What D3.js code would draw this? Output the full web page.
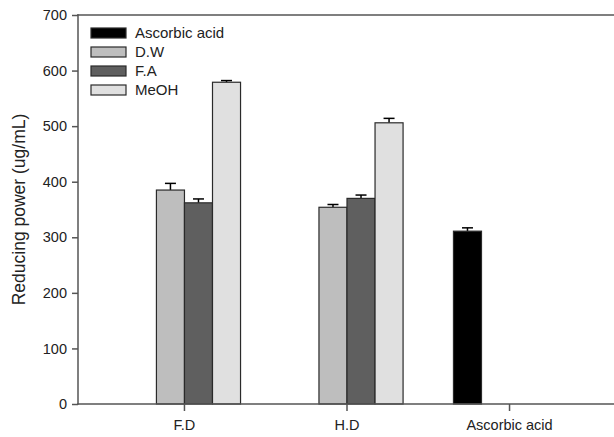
<!DOCTYPE html>
<html>
<head>
    <meta charset="utf-8">
    <style>
        html, body {
            margin: 0;
            background: #fff;
            overflow: hidden;
        }
        svg {
            display: block;
            font-family: Arial, 'Liberation Sans', sans-serif;
        }
    </style>
</head>
<body>
    <svg width="614" height="437"></svg>

<script src="https://d3js.org/d3.v7.min.js"></script>
<script>
    // data
    let groups = ["F.D", "H.D", "Ascorbic acid"]
    let series = ["Ascorbic acid", "D.W", "F.A", "MeOH"]
    let colors = ["#000000", "#bebebe", "#5f5f5f", "#e0e0e0"]

    // one row per group, values by series (null = no bar)
    let values = [
        [null, 385, 362, 579],
        [null, 354, 370, 506],
        [311, null, null, null]
    ]
    let errors = [
        [null, 12, 7, 3],
        [null, 5, 6, 8],
        [6, null, null, null]
    ]
    let yTicks = [0, 100, 200, 300, 400, 500, 600, 700]

    let width = 614
    let height = 437
    let margin = { top: 15, right: -2, bottom: 33, left: 78 }

    let svg = d3.select("svg")

    let x0 = d3.scaleBand()
        .domain(groups)
        .range([margin.left, width - margin.right])
        .padding(0.31)

    let x1 = d3.scaleBand()
        .domain(series)
        .range([0, x0.bandwidth()])

    let y = d3.scaleLinear()
        .domain([0, 700])
        .range([height - margin.bottom, margin.top])

    // flatten to bars
    let bars = []
    groups.forEach((g, i) => {
        series.forEach((s, j) => {
            if (values[i][j] != null) {
                bars.push({ group: g, series: s, value: values[i][j], err: errors[i][j], color: colors[j] })
            }
        })
    })

    // error bars (upper only)
    let eb = svg.append("g")
        .selectAll("g")
        .data(bars)
        .join("g")
        .attr("transform", d => `translate(${x0(d.group) + x1(d.series) + x1.bandwidth() / 2},0)`)

    eb.append("line")
        .attr("y1", d => y(d.value))
        .attr("y2", d => y(d.value + d.err))
        .style("stroke", "#000")
        .style("stroke-width", 1.5)

    eb.append("line")
        .attr("x1", -5.5)
        .attr("x2", 5.5)
        .attr("y1", d => y(d.value + d.err))
        .attr("y2", d => y(d.value + d.err))
        .style("stroke", "#000")
        .style("stroke-width", 1.5)

    // bars
    svg.append("g")
        .selectAll("rect")
        .data(bars)
        .join("rect")
        .attr("x", d => x0(d.group) + x1(d.series))
        .attr("width", x1.bandwidth())
        .attr("y", d => y(d.value))
        .attr("height", d => y(0) - y(d.value))
        .style("fill", d => d.color)
        .style("stroke", "#2a2a2a")
        .style("stroke-width", 1.2)

    // y axis
    let yAxis = svg.append("g")
        .attr("transform", `translate(${margin.left},0)`)
        .call(d3.axisLeft(y).tickValues(yTicks).tickSize(6).tickPadding(5))

    // x axis
    let xAxis = svg.append("g")
        .attr("transform", `translate(0,${y(0)})`)
        .call(d3.axisBottom(x0).tickSize(7).tickPadding(9))

    // axis lines drawn by hand (left, bottom, top; right side runs off the picture)
    svg.selectAll(".domain").remove()
    let frame = svg.append("g")
    frame.append("line")
        .attr("x1", margin.left).attr("x2", margin.left)
        .attr("y1", y(0)).attr("y2", y(700))
    frame.append("line")
        .attr("x1", margin.left).attr("x2", width + 5)
        .attr("y1", y(0)).attr("y2", y(0))
    frame.append("line")
        .attr("x1", margin.left).attr("x2", width + 5)
        .attr("y1", y(700)).attr("y2", y(700))
    frame.selectAll("line")
        .style("stroke", "#555")
        .style("stroke-width", 1.5)
        .style("stroke-linecap", "square")

    svg.selectAll(".tick line")
        .style("stroke", "#555")
        .style("stroke-width", 1.5)

    svg.selectAll(".tick text")
        .style("font-size", "14.5px")
        .style("font-family", "Arial, 'Liberation Sans', sans-serif")
        .style("fill", "#222")

    // y label
    svg.append("text")
        .attr("transform", `translate(25,${(y(0) + y(700)) / 2}) rotate(-90)`)
        .attr("text-anchor", "middle")
        .style("font-size", "17.5px")
        .style("fill", "#222")
        .text("Reducing power (ug/mL)")

    // legend
    let legend = svg.append("g")
        .selectAll("g")
        .data(series)
        .join("g")
        .attr("transform", (d, i) => `translate(91,${33 + i * 19})`)

    legend.append("rect")
        .attr("x", 0)
        .attr("y", -5)
        .attr("width", 35)
        .attr("height", 10)
        .style("fill", (d, i) => colors[i])
        .style("stroke", "#2a2a2a")
        .style("stroke-width", 1.2)

    legend.append("text")
        .attr("x", 44)
        .attr("dy", "0.36em")
        .style("font-size", "15px")
        .style("fill", "#222")
        .text(d => d)
</script>
</body>
</html>
